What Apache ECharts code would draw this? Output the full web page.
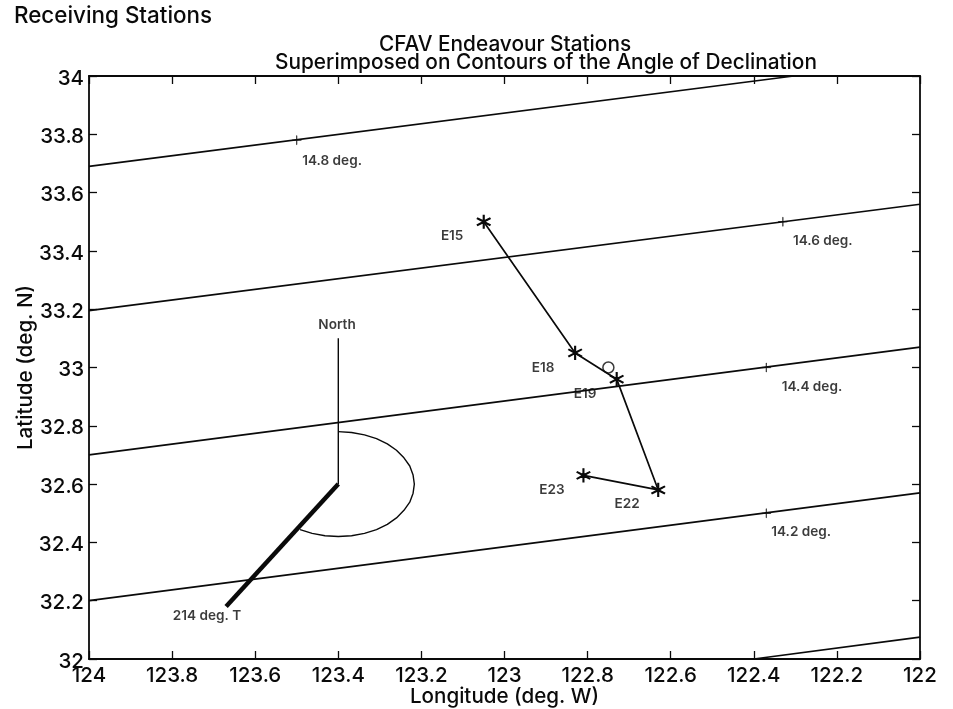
<!DOCTYPE html>
<html><head><meta charset="utf-8">
<script src="https://cdn.jsdelivr.net/npm/echarts@6/dist/echarts.min.js"></script>
<style>html,body{margin:0;padding:0;background:#fff}#c{width:953px;height:709px}</style></head>
<body><div id="c"></div>
<script>
const contour148 = [[124, 33.69], [122.304, 34]];
const contour146 = [[124, 33.195], [122, 33.56]];
const contour144 = [[124, 32.70], [122, 33.07]];
const contour142 = [[124, 32.20], [122, 32.57]];
const contour140 = [[122.4, 32], [122, 32.075]];
const contourTicks = [[123.5, 33.78], [122.33, 33.5], [122.37, 33.0], [122.37, 32.5]];
const track = [[123.05, 33.5], [122.83, 33.05], [122.73, 32.96], [122.63, 32.58], [122.81, 32.63]];
const openCircle = [[122.75, 33.0]];
const northLine = [[123.4, 32.6], [123.4, 33.1]];
const headingLine = [[123.4, 32.6], [123.67, 32.18]];
const headingArc = [[123.4,32.78],[123.368,32.777],[123.337,32.769],[123.308,32.756],[123.282,32.738],[123.26,32.716],[123.242,32.69],[123.228,32.662],[123.22,32.631],[123.217,32.6],[123.22,32.569],[123.228,32.538],[123.242,32.51],[123.26,32.484],[123.282,32.462],[123.308,32.444],[123.337,32.431],[123.368,32.423],[123.4,32.42],[123.432,32.423],[123.463,32.431],[123.492,32.444]];
const textLabels = [
  [123.415, 33.708, '14.8 deg.'], [122.234, 33.434, '14.6 deg.'],
  [122.26, 32.933, '14.4 deg.'], [122.286, 32.436, '14.2 deg.'],
  [123.403, 33.146, 'North'], [123.716, 32.148, '214 deg. T'],
  [123.126, 33.451, 'E15'], [122.907, 32.998, 'E18'], [122.806, 32.909, 'E19'],
  [122.886, 32.58, 'E23'], [122.705, 32.532, 'E22']
];
const FONT = 'Inter, "Liberation Sans", Arial, sans-serif';
const INK = '#0a0a0a';
const starPath = 'path://M9.4 0h1.2v8.6L18 4.3l.6 1L11.2 10l7.4 4.7-.6 1-7.4-4.3V20H9.4v-8.6L2 15.7l-.6-1L8.8 10 1.4 5.3l.6-1 7.4 4.3z';
const plusPath = 'path://M9.5 0h1v9.5H20v1h-9.5V20h-1v-9.5H0v-1h9.5z';
const contour = d => ({type:'line', data:d, symbol:'none', silent:true, lineStyle:{color:INK, width:1.7}});
const chart = echarts.init(document.getElementById('c'), null, {renderer:'canvas'});
const xA = (pos, lab) => ({type:'value', position:pos, min:122, max:124, interval:0.2, inverse:true,
  splitLine:{show:false},
  axisLine:{show:true, onZero:false, lineStyle:{color:INK, width:1.8}},
  axisTick:{show:true, inside:true, length:8, lineStyle:{color:INK, width:1.3}},
  axisLabel:{show:lab, color:INK, fontFamily:FONT, fontSize:20.5, fontWeight:500, margin:6},
  name:lab?'Longitude (deg. W)':'', nameLocation:'middle', nameGap:27, nameMoveOverlap:false,
  nameTextStyle:{color:INK, fontFamily:FONT, fontSize:20.6, fontWeight:500}});
const yA = (pos, lab) => ({type:'value', position:pos, min:32, max:34, interval:0.2,
  splitLine:{show:false},
  axisLine:{show:true, onZero:false, lineStyle:{color:INK, width:1.8}},
  axisTick:{show:true, inside:true, length:8, lineStyle:{color:INK, width:1.3}},
  axisLabel:{show:lab, margin:5, formatter:v => '{v|' + v + '}',
    rich:{v:{color:INK, fontFamily:FONT, fontSize:20.5, fontWeight:500, padding:[5,0,0,0]}}},
  name:lab?'Latitude (deg. N)':'', nameLocation:'middle', nameGap:53, nameMoveOverlap:false,
  nameTextStyle:{color:INK, fontFamily:FONT, fontSize:20.6, fontWeight:500}});
const titleStyle = size => ({color:INK, fontFamily:FONT, fontSize:size, fontWeight:500});
chart.setOption({
  animation:false,
  backgroundColor:'#fff',
  title:[
    {text:'Receiving Stations', left:9, top:0, textStyle:titleStyle(22.4)},
    {text:'CFAV Endeavour Stations', left:500, textAlign:'center', top:29, textStyle:titleStyle(20.8)},
    {text:'Superimposed on Contours of the Angle of Declination', left:541, textAlign:'center', top:47, textStyle:titleStyle(20.8)}
  ],
  grid:{left:89, right:33, top:76, bottom:50, outerBoundsMode:'none'},
  xAxis:[xA('bottom', true), xA('top', false)],
  yAxis:[yA('left', true), yA('right', false)],
  series:[
    contour(contour148), contour(contour146), contour(contour144), contour(contour142), contour(contour140),
    {type:'scatter', data:contourTicks, symbol:plusPath, symbolSize:9, silent:true, itemStyle:{color:INK, borderColor:INK, borderWidth:0.6}},
    {type:'line', data:northLine, symbol:'none', lineStyle:{color:INK, width:1.4}},
    {type:'line', data:headingArc, symbol:'none', lineStyle:{color:INK, width:1.4}},
    {type:'line', data:headingLine, symbol:'none', lineStyle:{color:INK, width:4.5}},
    {type:'line', data:track, symbol:starPath, symbolSize:13, showAllSymbol:true, lineStyle:{color:INK, width:1.7}, itemStyle:{color:INK, borderColor:INK, borderWidth:1.2}},
    {type:'scatter', data:openCircle, symbol:'circle', symbolSize:11, itemStyle:{color:'rgba(0,0,0,0)', borderColor:INK, borderWidth:1.5}},
    {type:'scatter', data:textLabels, symbolSize:1, itemStyle:{color:'rgba(0,0,0,0)'},
      label:{show:true, position:'inside', color:INK, fontFamily:FONT, fontSize:13.6, fontWeight:600,
        formatter:p => p.value[2]}}
  ]
});
</script></body></html>
